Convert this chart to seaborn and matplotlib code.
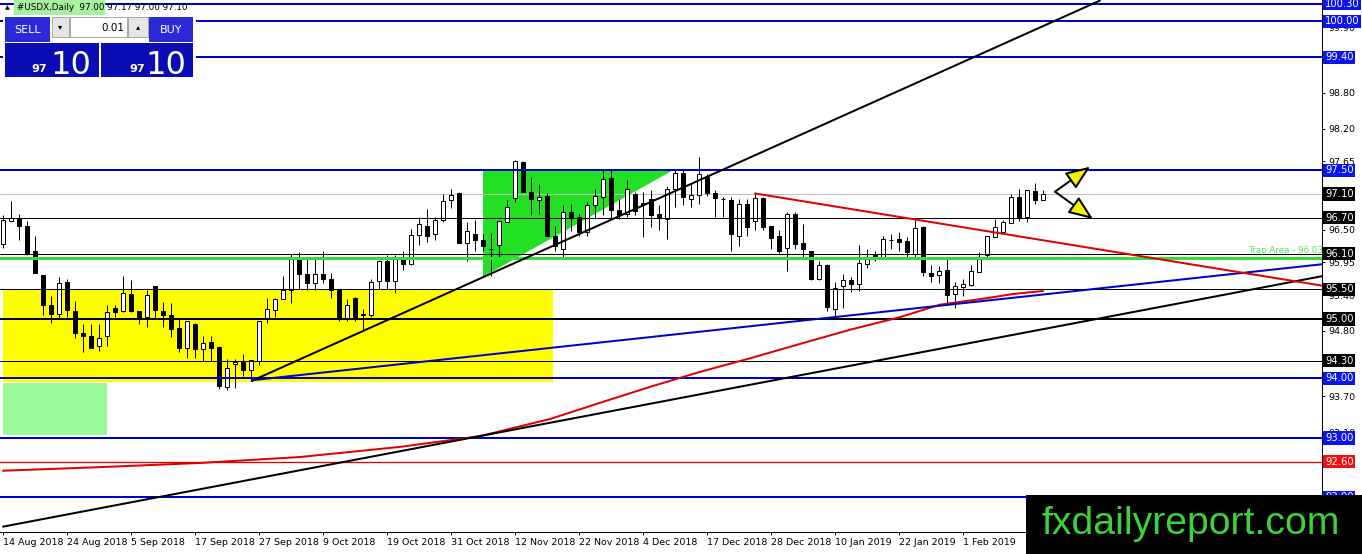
import matplotlib
matplotlib.use("Agg")
import matplotlib.pyplot as plt
import matplotlib.transforms as mtransforms
from matplotlib.patches import Rectangle, FancyArrowPatch
import seaborn as sns

# ---------------- data ----------------
opens = [96.26, 96.65, 96.70, 96.57, 96.14, 95.74, 95.23, 95.09, 95.63, 95.14,
         94.77, 94.71, 94.54, 94.72, 95.19, 95.14, 95.42, 95.14, 95.03, 95.56,
         95.14, 95.07, 94.85, 94.51, 94.92, 94.50, 94.62, 94.53, 93.85, 94.25,
         94.28, 94.15, 94.30, 95.00, 95.15, 95.34, 95.48, 96.03, 95.75, 95.61,
         95.76, 95.68, 95.50, 95.02, 95.35, 95.08, 95.06, 95.64, 95.97, 95.64,
         96.01, 95.92, 96.41, 96.57, 96.42, 96.67, 97.00, 97.11, 96.28, 96.42,
         96.33, 96.18, 96.24, 96.63, 97.03, 97.63, 97.13, 97.00, 97.07, 96.40,
         96.18, 96.79, 96.72, 96.47, 96.92, 97.05, 97.37, 96.83, 96.77, 97.10,
         96.95, 97.02, 96.77, 96.68, 97.19, 97.45, 97.02, 97.09, 97.39, 97.11,
         97.02, 97.00, 96.40, 96.94, 96.64, 97.04, 96.57, 96.39, 96.19, 96.76,
         96.28, 96.15, 95.67, 95.90, 95.17, 95.55, 95.65, 95.58, 95.93, 96.06,
         96.05, 96.33, 96.35, 96.31, 96.10, 96.55, 95.78, 95.74, 95.83, 95.42,
         95.54, 95.57, 95.79, 96.07, 96.37, 96.46, 96.61, 97.05, 96.71, 97.15,
         97.00]
highs = [96.75, 96.98, 96.77, 96.65, 96.40, 95.74, 95.38, 95.70, 95.68, 95.30,
         94.91, 94.91, 94.91, 95.23, 95.23, 95.73, 95.66, 95.14, 95.48, 95.56,
         95.29, 95.27, 95.00, 94.97, 94.93, 94.72, 94.72, 94.55, 94.33, 94.33,
         94.41, 94.31, 94.97, 95.35, 95.35, 95.73, 96.10, 96.12, 96.01, 96.01,
         96.15, 95.77, 95.50, 95.33, 95.37, 95.17, 95.68, 95.99, 96.08, 96.08,
         96.15, 96.51, 96.71, 96.85, 96.71, 97.10, 97.19, 97.13, 96.63, 96.67,
         96.43, 96.44, 96.65, 97.00, 97.67, 97.66, 97.39, 97.27, 97.11, 96.57,
         96.91, 96.94, 96.77, 96.96, 97.19, 97.50, 97.50, 97.02, 97.33, 97.13,
         97.13, 97.16, 96.91, 97.24, 97.52, 97.50, 97.27, 97.72, 97.44, 97.16,
         97.05, 97.05, 97.02, 97.02, 97.11, 97.05, 96.57, 96.50, 96.79, 96.79,
         96.60, 96.15, 95.98, 95.93, 95.62, 95.76, 95.70, 96.25, 96.18, 96.15,
         96.39, 96.43, 96.47, 96.37, 96.67, 96.57, 95.91, 95.89, 96.00, 95.62,
         95.68, 95.91, 96.12, 96.40, 96.68, 96.67, 97.10, 97.19, 97.17, 97.28,
         97.17]
lows = [96.20, 96.64, 96.32, 96.08, 95.77, 95.07, 94.93, 95.00, 95.03, 94.68,
        94.44, 94.52, 94.46, 94.54, 95.03, 95.12, 95.12, 94.92, 94.87, 95.02,
        94.87, 94.70, 94.44, 94.35, 94.35, 94.30, 94.30, 93.82, 93.81, 93.84,
        94.04, 93.96, 94.22, 94.93, 95.03, 95.34, 95.27, 95.50, 95.49, 95.49,
        95.61, 95.36, 94.97, 94.97, 94.97, 94.81, 95.03, 95.50, 95.50, 95.44,
        95.82, 95.90, 96.24, 96.29, 96.33, 96.63, 96.87, 96.28, 95.98, 96.15,
        96.15, 95.73, 96.04, 96.63, 96.96, 97.13, 96.74, 96.77, 96.40, 96.15,
        96.05, 96.48, 96.40, 96.40, 96.68, 96.74, 96.68, 96.68, 96.71, 96.74,
        96.37, 96.54, 96.49, 96.35, 96.88, 96.91, 96.88, 96.94, 97.07, 96.71,
        96.71, 96.15, 96.23, 96.39, 96.50, 96.49, 96.18, 96.11, 95.81, 96.18,
        96.05, 95.65, 95.65, 95.14, 95.03, 95.19, 95.45, 95.47, 95.86, 95.97,
        96.05, 96.18, 96.15, 96.05, 96.05, 95.72, 95.63, 95.60, 95.23, 95.19,
        95.38, 95.55, 95.79, 96.05, 96.37, 96.46, 96.61, 96.65, 96.63, 96.94,
        97.00]
closes = [96.67, 96.70, 96.56, 96.10, 95.77, 95.24, 95.09, 95.61, 95.15, 94.76,
          94.71, 94.52, 94.68, 95.12, 95.12, 95.44, 95.14, 95.02, 95.41, 95.15,
          95.06, 94.83, 94.52, 94.97, 94.50, 94.60, 94.52, 93.88, 94.17, 94.28,
          94.15, 94.31, 94.97, 95.17, 95.34, 95.48, 96.04, 95.76, 95.61, 95.76,
          95.68, 95.49, 95.00, 95.24, 95.04, 95.07, 95.62, 95.97, 95.64, 96.01,
          95.93, 96.41, 96.59, 96.40, 96.67, 96.98, 97.09, 96.28, 96.48, 96.33,
          96.22, 96.18, 96.64, 96.88, 97.66, 97.13, 97.02, 97.05, 96.40, 96.23,
          96.79, 96.71, 96.46, 96.92, 97.07, 97.36, 96.83, 96.75, 97.19, 96.82,
          96.94, 96.74, 96.71, 97.19, 97.45, 97.05, 97.09, 97.43, 97.11, 97.04,
          97.01, 96.43, 96.94, 96.54, 97.04, 96.55, 96.36, 96.15, 96.77, 96.26,
          96.18, 95.67, 95.90, 95.20, 95.52, 95.66, 95.59, 95.94, 96.03, 96.07,
          96.35, 96.32, 96.29, 96.12, 96.53, 95.79, 95.72, 95.80, 95.40, 95.55,
          95.59, 95.81, 96.05, 96.40, 96.55, 96.63, 97.05, 96.71, 97.17, 97.00,
          97.10]

date_labels = ["14 Aug 2018", "24 Aug 2018", "5 Sep 2018", "17 Sep 2018",
               "27 Sep 2018", "9 Oct 2018", "19 Oct 2018", "31 Oct 2018",
               "12 Nov 2018", "22 Nov 2018", "4 Dec 2018", "17 Dec 2018",
               "28 Dec 2018", "10 Jan 2019", "22 Jan 2019", "1 Feb 2019"]
date_bars = [0, 8, 16, 24, 32, 40, 48, 56, 64, 72, 80, 88, 96, 104, 112, 120]

y_ticks = [99.90, 99.35, 98.80, 98.20, 97.65, 97.10, 96.50, 95.95, 95.40,
           94.80, 94.25, 93.70, 93.10, 92.55, 92.00]

# horizontal levels
blue_levels = [100.30, 100.00, 99.40, 97.50, 94.00, 93.00, 92.00]
black_levels = [96.70, 96.10, 95.50, 94.30]
thick_black_levels = [95.00]
red_levels = [92.60]
trap_level = [96.03]
current_price = [97.10]

# price label boxes on the axis
box_values = [100.30, 100.00, 99.40, 97.50, 97.10, 96.70, 96.10, 95.50, 95.00,
              94.30, 94.00, 93.00, 92.60, 92.00]
box_kinds = ["blue", "blue", "blue", "blue", "black", "black", "black", "black",
             "black", "black", "blue", "blue", "red", "blue"]

# moving average
ma_bars = [0, 12.1, 24.6, 37.1, 49.6, 59.6, 68.4, 74.6, 80.9, 87.1, 93.4,
           99.6, 105.9, 112.1, 117.1, 123.0, 126.25, 130]
ma_vals = [92.45, 92.51, 92.58, 92.68, 92.85, 93.03, 93.32, 93.59, 93.86,
           94.11, 94.34, 94.58, 94.82, 95.03, 95.24, 95.35, 95.42, 95.47]

# trend lines (anchor points: bar, price)
up_black_x = [31.1, 137.1]
up_black_y = [93.96, 100.35]
low_black_x = [0, 164.9]
low_black_y = [91.51, 95.72]
blue_tl_x = [31.1, 164.9]
blue_tl_y = [93.97, 95.92]
red_tl_x = [94, 164.9]
red_tl_y = [97.11, 95.56]

# zones
yellow_x = [0, 68.75]
yellow_lo = [93.94, 93.94]
yellow_hi = [95.50, 95.50]
pale_x = [0, 13]
pale_lo = [93.05, 93.05]
pale_hi = [93.93, 93.93]
tri_x = [60, 83.75, 60]
tri_y = [97.50, 97.50, 95.71]

# arrows
arrow_start = (131.5, 97.14)
arrow_up_end = (135.9, 97.56)
arrow_dn_end = (136.25, 96.68)

# trap text anchor (bar)
trap_text_bar = 155.6

# ---------------- figure ----------------
sns.set_style("white")
plt.rcParams["font.family"] = ["DejaVu Sans"]

W, H = 1362, 554
fig = plt.figure(figsize=(W / 100, H / 100), dpi=100)
fig.patch.set_facecolor("white")


def fx(x):
    return x / W


def fy(y):
    return 1 - y / H


ax = fig.add_axes([0, fy(532), 1322 / W, 532 / H])
ax.set_facecolor("white")
ax.set_xlim(-0.375, 164.875)
ax.set_ylim(91.42, 100.361)

PX = 0.72  # one pixel in points

# zones
ax.fill_between(yellow_x, yellow_lo, yellow_hi, color="#ffff00", lw=0, zorder=1)
ax.fill_between(pale_x, pale_lo, pale_hi, color="#98fb98", lw=0, zorder=1)
ax.fill(tri_x, tri_y, color="#22e022", lw=0, zorder=1)

# horizontal levels
for v in blue_levels:
    ax.axhline(v, color="#0000c8", lw=2 * PX, zorder=4)
for v in black_levels:
    ax.axhline(v, color="black", lw=PX, zorder=4)
for v in thick_black_levels:
    ax.axhline(v, color="black", lw=2 * PX, zorder=4)
for v in red_levels:
    ax.axhline(v, color="#e00000", lw=1.3 * PX, zorder=4)
for v in trap_level:
    ax.axhline(v, color="#33dd33", lw=3 * PX, zorder=4)
for v in current_price:
    ax.axhline(v, color="#c0c0c0", lw=PX, zorder=2)

# candles
idx = list(range(len(opens)))
body_lo = [min(o, c) for o, c in zip(opens, closes)]
body_h = [abs(c - o) for o, c in zip(opens, closes)]
fills = ["white" if c >= o else "black" for o, c in zip(opens, closes)]
ax.vlines(idx, lows, highs, color="black", lw=PX, zorder=3)
ax.bar(idx, body_h, bottom=body_lo, width=0.58, color=fills,
       edgecolor="black", linewidth=PX, zorder=3.5)

# moving average and trend lines
sns.lineplot(x=ma_bars, y=ma_vals, ax=ax, color="#e00000", lw=2 * PX,
             sort=False, estimator=None, zorder=5)
sns.lineplot(x=up_black_x, y=up_black_y, ax=ax, color="black", lw=2 * PX,
             sort=False, estimator=None, zorder=5)
sns.lineplot(x=low_black_x, y=low_black_y, ax=ax, color="black", lw=2 * PX,
             sort=False, estimator=None, zorder=5)
sns.lineplot(x=blue_tl_x, y=blue_tl_y, ax=ax, color="#0000c8", lw=2 * PX,
             sort=False, estimator=None, zorder=5)
sns.lineplot(x=red_tl_x, y=red_tl_y, ax=ax, color="#e00000", lw=2 * PX,
             sort=False, estimator=None, zorder=5)

# arrows
for end in (arrow_up_end, arrow_dn_end):
    ar = FancyArrowPatch(arrow_start, end,
                         arrowstyle="-|>,head_length=0.75,head_width=0.3",
                         mutation_scale=20, lw=2 * PX, edgecolor="black",
                         facecolor="#f2f200", zorder=6, shrinkA=0, shrinkB=0)
    ax.add_patch(ar)

# trap text
ax.text(trap_text_bar, trap_level[0] + 0.04, "Trap Area - %.2f" % trap_level[0],
        color="#5fe05f", fontsize=6.3, ha="left", va="bottom", zorder=6,
        clip_on=False)

# axes styling
for s in ["top", "left"]:
    ax.spines[s].set_visible(False)
for s in ["right", "bottom"]:
    ax.spines[s].set_color("black")
    ax.spines[s].set_linewidth(PX)
ax.yaxis.tick_right()
ax.set_yticks(y_ticks)
hidden = set(box_values)
ax.set_yticklabels(["" if v in hidden else "%.2f" % v for v in y_ticks])
ax.set_xticks(date_bars)
ax.set_xticklabels(date_labels, ha="left")
ax.tick_params(axis="y", direction="out", length=2.5, width=PX, pad=2,
               labelsize=6.8, colors="black", right=True, left=False)
ax.tick_params(axis="x", direction="out", length=2.5, width=PX, pad=2,
               labelsize=6.8, colors="black", bottom=True)
ax.set_xlabel("")
ax.set_ylabel("")
ax.grid(False)

# price boxes
kind_color = {"blue": "#0a14f0", "black": "#000000", "red": "#f01010"}
trans = mtransforms.blended_transform_factory(ax.transAxes, ax.transData)
for v, k in zip(box_values, box_kinds):
    ax.text(1.0 + 3 / 1322, v, "%.2f" % v, transform=trans, ha="left",
            va="center", fontsize=7.2, color="white", zorder=10,
            clip_on=False,
            bbox=dict(boxstyle="square,pad=0.16", fc=kind_color[k], ec="none"))

# ---------------- header and trade panel ----------------
fig.patches.append(Rectangle((fx(14), fy(14)), fx(104) - fx(14), 14 / H,
                             transform=fig.transFigure, color="#a8f0a0",
                             zorder=1))
fig.text(fx(5), fy(8), "\u25b2", fontsize=4.5, va="center", ha="left",
         color="black", zorder=3)
fig.text(fx(17), fy(8), "#USDX,Daily  97.00 97.17 97.00 97.10", fontsize=6.3,
         va="center", ha="left", color="black", zorder=3)


def frect(x0, y0, x1, y1, color, ec="none", z=2):
    fig.patches.append(Rectangle((fx(x0), fy(y1)), fx(x1) - fx(x0),
                                 (y1 - y0) / H, transform=fig.transFigure,
                                 facecolor=color, edgecolor=ec, lw=0.6,
                                 zorder=z))


frect(3, 15, 196, 79, "white")
frect(5, 17, 50, 42, "#2a2ad8")
frect(149, 17, 193, 42, "#2a2ad8")
frect(5, 43, 99, 77, "#0c0cb4")
frect(101, 43, 193, 77, "#0c0cb4")
frect(52, 17, 69, 37, "#e6e6e6", ec="#9a9a9a")
frect(70, 17, 127, 37, "white", ec="#9a9a9a")
frect(128, 17, 148, 37, "#e6e6e6", ec="#9a9a9a")
fig.text(fx(27.5), fy(30), "SELL", color="white", fontsize=8, ha="center",
         va="center", zorder=3)
fig.text(fx(171), fy(30), "BUY", color="white", fontsize=8, ha="center",
         va="center", zorder=3)
fig.text(fx(60.5), fy(27), "\u25be", color="black", fontsize=6, ha="center",
         va="center", zorder=3)
fig.text(fx(138), fy(27), "\u25b4", color="black", fontsize=6, ha="center",
         va="center", zorder=3)
fig.text(fx(124), fy(28), "0.01", color="black", fontsize=7.5, ha="right",
         va="center", zorder=3)
for bx, sx in ((39, 71), (137, 166)):
    fig.text(fx(bx), fy(72), "97", color="white", fontsize=8,
             fontweight="bold", ha="center", va="baseline", zorder=3)
    fig.text(fx(sx), fy(73.5), "10", color="white", fontsize=23,
             ha="center", va="baseline", zorder=3)

# ---------------- logo ----------------
frect(1026, 495, 1362, 554, "black", z=5)
fig.text(fx(1042), fy(533.5), "fxdailyreport.com", color="#3cd23c",
         fontsize=28.3, family=["Liberation Sans", "DejaVu Sans"],
         ha="left", va="baseline", zorder=6)

fig.savefig("out.png", dpi=100, facecolor="white")
